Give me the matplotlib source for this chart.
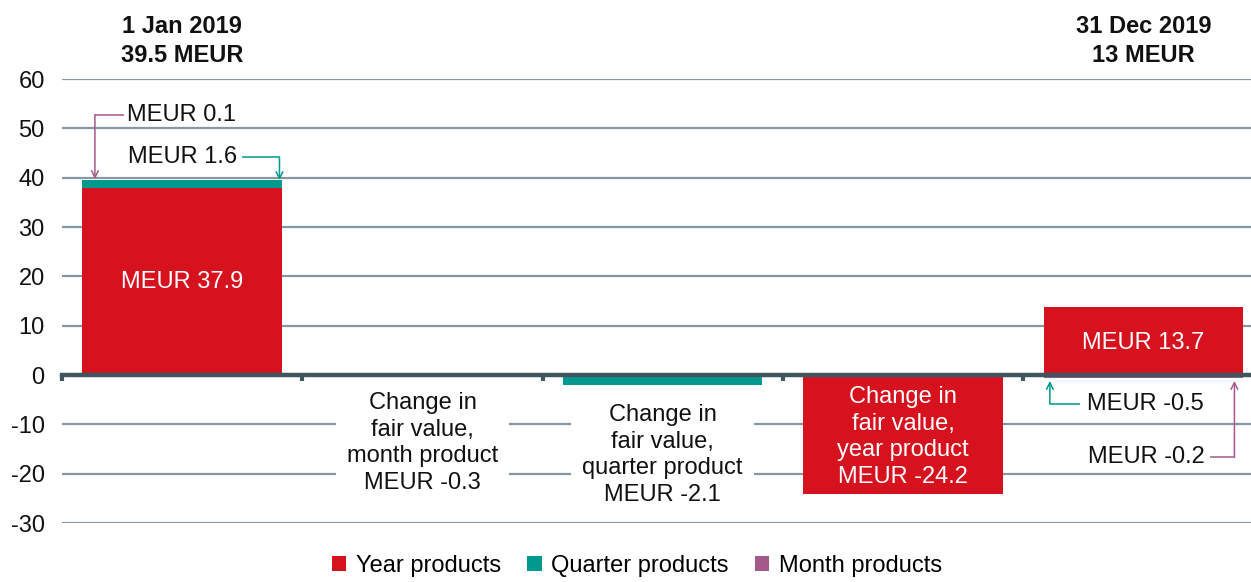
import matplotlib
matplotlib.use('Agg')
import matplotlib.pyplot as plt
from matplotlib.patches import Patch
import numpy as np

plt.rcParams['font.family'] = ['Liberation Sans', 'DejaVu Sans']

# ---- data ----
categories = ['1 Jan 2019', 'Month change', 'Quarter change', 'Year change', '31 Dec 2019']
year_vals = [37.9, 0.0, 0.0, -24.2, 13.7]
quarter_vals = [1.6, 0.0, -2.1, 0.0, -0.5]
month_vals = [0.1, -0.3, 0.0, 0.0, -0.2]
series_names = ['Year products', 'Quarter products', 'Month products']
yticks = [-30, -20, -10, 0, 10, 20, 30, 40, 50, 60]
headers = ['1 Jan 2019\n39.5 MEUR', '31 Dec 2019\n13 MEUR']
bar_labels = ['MEUR 37.9',
              'Change in\nfair value,\nmonth product\nMEUR -0.3',
              'Change in\nfair value,\nquarter product\nMEUR -2.1',
              'Change in\nfair value,\nyear product\nMEUR -24.2',
              'MEUR 13.7']

RED = '#d7121f'
TEAL = '#00998f'
PURPLE = '#a35a8a'
GRID = '#8797a2'
AXIS = '#3f5661'

fig = plt.figure(figsize=(12.51, 5.82), dpi=100)
ax = fig.add_axes([62/1251, 1-523/582, 1201.5/1251, (523-79)/582])

x = np.arange(len(categories))
w = 0.83
pos_base = np.zeros(len(x))
neg_base = np.zeros(len(x))
for vals, col in zip([year_vals, quarter_vals, month_vals], [RED, TEAL, PURPLE]):
    v = np.array(vals)
    bottoms = np.where(v >= 0, pos_base, neg_base)
    ax.bar(x, v, width=w, bottom=bottoms, color=col, zorder=2, linewidth=0)
    pos_base = pos_base + np.where(v > 0, v, 0)
    neg_base = neg_base + np.where(v < 0, v, 0)

ax.set_xlim(-0.5, len(x) - 0.5)
ax.set_ylim(-30, 60)
ax.set_yticks(yticks)
ax.set_yticklabels([str(t) for t in yticks], fontsize=17, color='#111111')
ax.tick_params(axis='y', length=0, pad=12.5)
ax.yaxis.grid(True, color=GRID, linewidth=1.6, zorder=0)
ax.set_axisbelow(True)
for s in ['top', 'right', 'left']:
    ax.spines[s].set_visible(False)
ax.spines['bottom'].set_position(('data', 0))
ax.spines['bottom'].set_color(AXIS)
ax.spines['bottom'].set_linewidth(3.2)
ax.spines['bottom'].set_zorder(3)
ax.set_xticks(np.arange(-0.5, len(x) - 0.5, 1.0))
ax.set_xticklabels([])
ax.tick_params(axis='x', direction='out', length=4, width=3, color=AXIS)

LS = 1.27
# in-bar / below-bar labels
ax.text(0, 18.9, bar_labels[0], ha='center', va='center', color='white', fontsize=17, zorder=4)
ax.text(4, 6.5, bar_labels[4], ha='center', va='center', color='white', fontsize=17, zorder=4)
ax.text(1, -13.8, bar_labels[1], ha='center', va='center', color='#111111', fontsize=17,
        linespacing=LS, zorder=4, bbox=dict(facecolor='white', edgecolor='none', pad=8))
ax.text(2, -16.2, bar_labels[2], ha='center', va='center', color='#111111', fontsize=17,
        linespacing=LS, zorder=4, bbox=dict(facecolor='white', edgecolor='none', pad=8))
ax.text(3, -12.6, bar_labels[3], ha='center', va='center', color='white', fontsize=17,
        linespacing=LS, zorder=4)

# headers
ax.text(0, 67.7, headers[0], ha='center', va='center', fontsize=17, fontweight='bold',
        color='#111111', linespacing=1.33, clip_on=False)
ax.text(4, 67.7, headers[1], ha='center', va='center', fontsize=17, fontweight='bold',
        color='#111111', linespacing=1.33, clip_on=False)

# callouts
def callout(text, tx, ty, ha, line_x0, corner_x, tip_y, color):
    ax.text(tx, ty, text, ha=ha, va='center', fontsize=17, color='#111111', zorder=5)
    ax.plot([line_x0, corner_x], [ty, ty], color=color, lw=1.1, zorder=5, solid_capstyle='butt')
    ax.annotate('', xy=(corner_x, tip_y), xytext=(corner_x, ty),
                arrowprops=dict(arrowstyle='->', color=color, lw=1.1, shrinkA=0, shrinkB=0,
                                mutation_scale=12), zorder=5)

callout('MEUR 0.1', -0.23, 52.8, 'left', -0.24, -0.363, 39.7, PURPLE)
callout('MEUR 1.6', 0.23, 44.2, 'right', 0.249, 0.405, 39.5, TEAL)
callout('MEUR -0.5', 3.765, -5.9, 'left', 3.738, 3.611, -1.2, TEAL)
callout('MEUR -0.2', 4.255, -16.7, 'right', 4.277, 4.379, -1.2, PURPLE)

handles = [Patch(facecolor=c, edgecolor='none') for c in [RED, TEAL, PURPLE]]
fig.legend(handles, series_names, loc='center', bbox_to_anchor=(637/1251, 1-566/582),
           ncol=3, frameon=False, fontsize=17, handlelength=0.6, handleheight=0.6,
           handletextpad=0.4, columnspacing=1.12, borderpad=0.2)

fig.savefig('out.png', dpi=100)
